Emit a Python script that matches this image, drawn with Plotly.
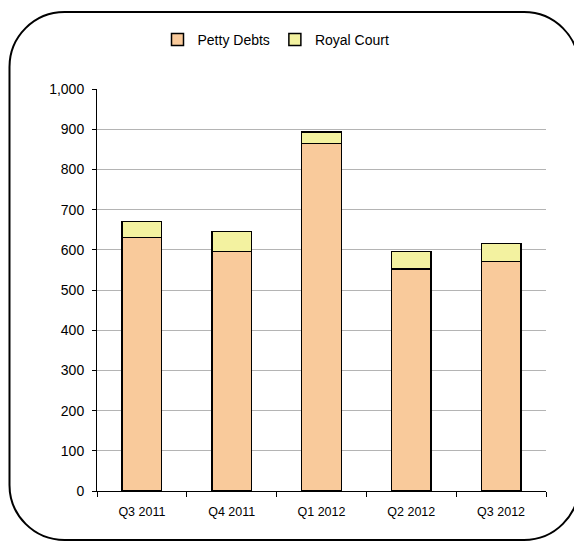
import plotly.graph_objects as go

categories = ["Q3 2011", "Q4 2011", "Q1 2012", "Q2 2012", "Q3 2012"]
petty_debts = [631, 596, 864, 552, 571]
royal_court = [40, 50, 29, 44, 45]
y_ticks = [0, 100, 200, 300, 400, 500, 600, 700, 800, 900, 1000]

# page body has an 8px margin, so the figure is drawn 8px smaller
W, H = 574, 536
L, T = 89, 81
pw, ph = 449, 402
R, B = W - L - pw, H - T - ph

def px(x):
    return (x - L) / pw

def py(y):
    return (H - B - y) / ph

fig = go.Figure()
fig.add_trace(go.Bar(name="Petty Debts", x=categories, y=petty_debts,
                     marker=dict(color="#F9CA9B", line=dict(color="black", width=1.5))))
fig.add_trace(go.Bar(name="Royal Court", x=categories, y=royal_court,
                     marker=dict(color="#F3F2A0", line=dict(color="black", width=1.5))))

# rounded border frame in pixel space converted to paper
x0, x1, y0, y1, r = 1.5, 571, 4, 532, 55
k = 0.5523 * r
def P(x, y):
    return f"{px(x):.5f},{py(y):.5f}"
path = (f"M {P(x0 + r, y0)} L {P(x1 - r, y0)} "
        f"C {P(x1 - r + k, y0)} {P(x1, y0 + r - k)} {P(x1, y0 + r)} "
        f"L {P(x1, y1 - r)} "
        f"C {P(x1, y1 - r + k)} {P(x1 - r + k, y1)} {P(x1 - r, y1)} "
        f"L {P(x0 + r, y1)} "
        f"C {P(x0 + r - k, y1)} {P(x0, y1 - r + k)} {P(x0, y1 - r)} "
        f"L {P(x0, y0 + r)} "
        f"C {P(x0, y0 + r - k)} {P(x0 + r - k, y0)} {P(x0 + r, y0)} Z")
fig.add_shape(type="path", path=path, xref="paper", yref="paper",
              line=dict(color="black", width=2), layer="below")

fig.update_layout(
    width=W, height=H,
    margin=dict(l=L, r=R, t=T, b=B, autoexpand=False),
    barmode="stack",
    bargap=0.56,
    plot_bgcolor="white",
    paper_bgcolor="white",
    font=dict(family="Liberation Sans, Arial, sans-serif", size=12, color="black"),
    showlegend=True,
    legend=dict(orientation="h", x=px(268), xanchor="center", y=py(32), yanchor="middle",
                font=dict(size=14), traceorder="normal", itemwidth=30),
    xaxis=dict(showline=True, linecolor="black", linewidth=1, ticks="outside",
               tickson="boundaries", ticklen=5, tickcolor="black", showgrid=False,
               tickfont=dict(size=12.5), ticklabelstandoff=9),
    yaxis=dict(range=[0, 1000], tickvals=y_ticks, tickformat=",", showline=True,
               linecolor="black", linewidth=1, ticks="outside", ticklen=4,
               tickcolor="black", showgrid=True, gridcolor="#B4B4B4", gridwidth=1,
               zeroline=False, tickfont=dict(size=14), ticklabelstandoff=5),
)

fig.write_html("out.html")
